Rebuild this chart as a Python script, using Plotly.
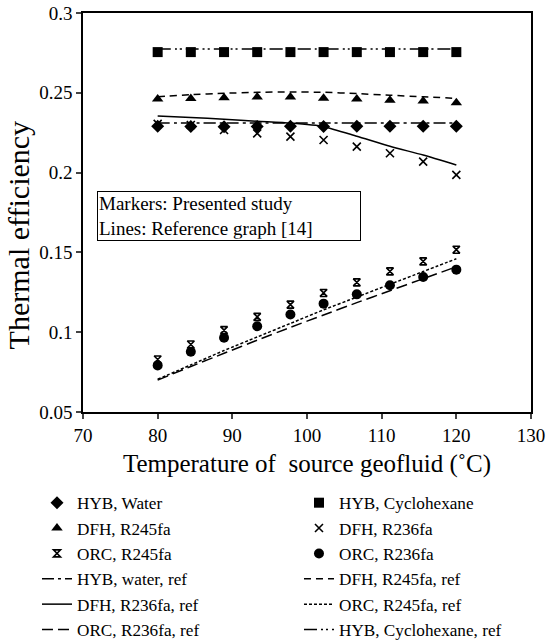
import plotly.graph_objects as go

# ---- data ----
temps = [80, 84.44, 88.89, 93.33, 97.78, 102.22, 106.67, 111.11, 115.56, 120]

hyb_water = [0.2290, 0.2289, 0.2288, 0.2289, 0.2290, 0.2289, 0.2290, 0.2290, 0.2290, 0.2290]
hyb_cyclohexane = [0.2755, 0.2755, 0.2755, 0.2755, 0.2755, 0.2755, 0.2755, 0.2755, 0.2755, 0.2755]
dfh_r245fa = [0.2461, 0.2465, 0.2469, 0.2473, 0.2473, 0.2466, 0.2461, 0.2453, 0.2448, 0.2437]
dfh_r236fa = [0.2305, 0.2298, 0.2267, 0.2246, 0.2225, 0.2204, 0.2163, 0.2121, 0.2069, 0.1986]
orc_r245fa = [0.0829, 0.0923, 0.1013, 0.1096, 0.1173, 0.1246, 0.1312, 0.1381, 0.1444, 0.1517]
orc_r236fa = [0.0792, 0.0877, 0.0965, 0.1037, 0.1111, 0.1179, 0.1237, 0.1294, 0.1346, 0.1392]

hyb_water_ref = [0.2310, 0.2310, 0.2310, 0.2310, 0.2310, 0.2310, 0.2310, 0.2310, 0.2310, 0.2310]
dfh_r245fa_ref = [0.2475, 0.2488, 0.2497, 0.2503, 0.2505, 0.2503, 0.2495, 0.2485, 0.2475, 0.2465]
dfh_r236fa_ref = [0.2354, 0.2345, 0.2335, 0.2322, 0.2310, 0.2288, 0.2228, 0.2165, 0.2110, 0.2048]
orc_r245fa_ref = [0.0705, 0.0795, 0.0885, 0.0970, 0.1055, 0.1140, 0.1220, 0.1300, 0.1380, 0.1460]
orc_r236fa_ref = [0.0700, 0.0785, 0.0868, 0.0950, 0.1030, 0.1108, 0.1185, 0.1260, 0.1335, 0.1410]
hyb_cyclohexane_ref = [0.2775, 0.2775, 0.2775, 0.2775, 0.2775, 0.2775, 0.2775, 0.2775, 0.2775, 0.2775]

x_ticks = [70, 80, 90, 100, 110, 120, 130]
y_ticks = [0.05, 0.1, 0.15, 0.2, 0.25, 0.3]
y_ticktext = ["0.05", "0.1", "0.15", "0.2", "0.25", "0.3"]

FONT = "Liberation Serif"
BLACK = "#000000"

fig = go.Figure()

# reference lines (drawn first, below markers)
line_series = [
    ("HYB, water, ref", hyb_water_ref, "12px,4px,3px,4px", 7),
    ("DFH, R245fa, ref", dfh_r245fa_ref, "7px,5px", 8),
    ("DFH, R236fa, ref", dfh_r236fa_ref, "solid", 9),
    ("ORC, R245fa, ref", orc_r245fa_ref, "3px,2px", 10),
    ("ORC, R236fa, ref", orc_r236fa_ref, "11px,5px", 11),
    ("HYB, Cyclohexane, ref", hyb_cyclohexane_ref, "13px,4px,2px,3px,2px,4px", 12),
]
for name, vals, dash, rank in line_series:
    fig.add_trace(go.Scatter(
        x=temps, y=vals, name=name, mode="lines",
        line=dict(color=BLACK, width=1.5, dash=dash, shape="spline", smoothing=0.6),
        legendrank=rank,
    ))

marker_series = [
    ("HYB, Water", hyb_water, "diamond", 10, 1),
    ("HYB, Cyclohexane", hyb_cyclohexane, "square", 10, 2),
    ("DFH, R245fa", dfh_r245fa, "triangle-up", 10, 3),
    ("DFH, R236fa", dfh_r236fa, "x-thin-open", 8, 4),
    ("ORC, R245fa", orc_r245fa, "hourglass-open", 7, 5),
    ("ORC, R236fa", orc_r236fa, "circle", 10, 6),
]
for name, vals, sym, size, rank in marker_series:
    fig.add_trace(go.Scatter(
        x=temps, y=vals, name=name, mode="markers",
        marker=dict(color=BLACK, symbol=sym, size=size,
                    line=dict(color=BLACK, width=1.6 if "open" in sym else 0)),
        legendrank=rank,
    ))

# text box inside the plot
fig.add_annotation(
    xref="paper", yref="paper", x=0.031, y=0.554, xanchor="left", yanchor="top",
    text="Markers: Presented study<br>Lines: Reference graph [14]",
    showarrow=False, align="left", width=260,
    font=dict(family=FONT, size=19, color=BLACK),
    bordercolor=BLACK, borderwidth=1, borderpad=1, bgcolor="white",
)

# y-axis title (placed slightly below the plot centre, as in the reference)
fig.add_annotation(
    xref="paper", yref="paper", x=-0.143, y=0.445, xanchor="center", yanchor="middle",
    text="Thermal efficiency", textangle=-90, showarrow=False,
    font=dict(family=FONT, size=30, color=BLACK),
)

fig.update_layout(
    width=547, height=642,
    margin=dict(l=83, r=16, t=13, b=230, autoexpand=False),
    paper_bgcolor="white", plot_bgcolor="white",
    font=dict(family=FONT, color=BLACK, size=17),
    showlegend=True,
    legend=dict(
        orientation="h", x=-0.1027, xanchor="left", y=-0.183, yanchor="top",
        entrywidth=217, entrywidthmode="pixels",
        font=dict(family=FONT, size=17.2, color=BLACK),
        traceorder="normal", itemsizing="trace", tracegroupgap=0,
        bgcolor="rgba(0,0,0,0)",
    ),
    xaxis=dict(
        range=[70, 130], tickvals=x_ticks, ticks="outside", ticklen=5, tickwidth=1.5,
        showline=True, linecolor=BLACK, linewidth=1.5, mirror=True,
        showgrid=False, zeroline=False, automargin=False,
        tickfont=dict(family=FONT, size=19, color=BLACK),
        title=dict(text="Temperature of  source geofluid (˚C)", standoff=10,
                   font=dict(family=FONT, size=25, color=BLACK)),
    ),
    yaxis=dict(
        range=[0.05, 0.3], tickvals=y_ticks, ticktext=y_ticktext, ticks="outside",
        ticklen=5, tickwidth=1.5,
        showline=True, linecolor=BLACK, linewidth=1.5, mirror=True,
        showgrid=False, zeroline=False, automargin=False,
        tickfont=dict(family=FONT, size=19, color=BLACK),
    ),
)

fig.write_html(
    "out.html",
    config={"displayModeBar": False},
    post_script="document.body.style.margin='0';document.body.style.overflow='hidden';",
)
